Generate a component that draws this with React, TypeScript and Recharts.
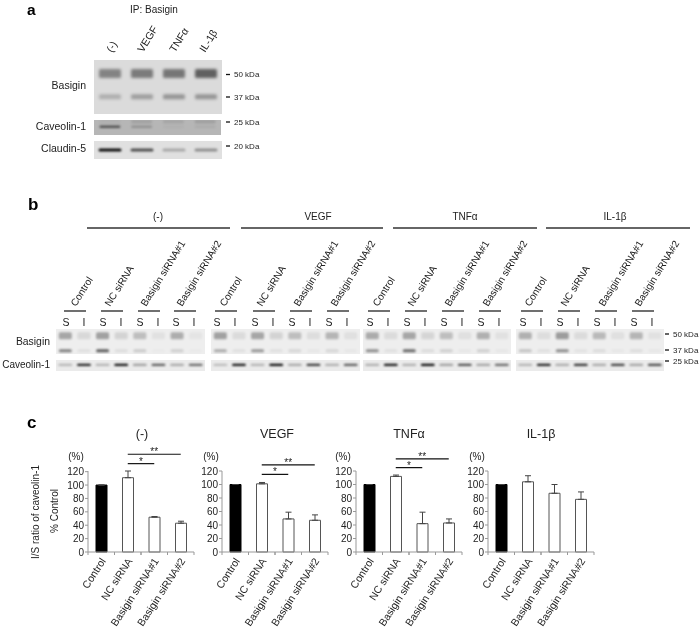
import React from 'react';
import { BarChart, Bar, Cell, XAxis, YAxis, ErrorBar, ReferenceLine, ScatterChart, Scatter } from 'recharts';

const FONT = '"Liberation Sans", Arial, sans-serif';

// panel c values
const categories = ['Control', 'NC siRNA', 'Basigin siRNA#1', 'Basigin siRNA#2'];
const yTicks = [0, 20, 40, 60, 80, 100, 120];
const noneValues = [100, 111, 52, 43];
const noneErrors = [0, 10, 1, 3];
const vegfValues = [100, 101, 49, 47];
const vegfErrors = [0, 2, 10, 8];
const tnfValues = [100, 112, 42, 43];
const tnfErrors = [0, 2, 17, 6];
const il1Values = [100, 104, 87, 78];
const il1Errors = [0, 9, 13, 11];
const noneSig = [132, 146];
const vegfSig = [115, 129];
const tnfSig = [125, 138];

// blot band strengths, panel a
const aBasigin50 = [0.4, 0.44, 0.46, 0.56];
const aBasigin37 = [0.2, 0.28, 0.32, 0.32];
const aCaveolin = [0.55, 0.2, 0.03, 0.06];
const aCaveolinTop = [0.04, 0.12, 0.1, 0.14];
const aClaudin = [0.95, 0.65, 0.25, 0.36];

// blot band strengths, panel b (S, I per condition)
const bBasigin50 = [
  [0.3, 0.09, 0.32, 0.11, 0.2, 0.05, 0.27, 0.04],
  [0.32, 0.08, 0.3, 0.11, 0.2, 0.07, 0.24, 0.06],
  [0.28, 0.08, 0.3, 0.1, 0.2, 0.06, 0.26, 0.05],
  [0.26, 0.07, 0.34, 0.08, 0.22, 0.06, 0.24, 0.05],
];
const bBasigin37 = [
  [0.45, 0.06, 0.6, 0.07, 0.15, 0.02, 0.13, 0.02],
  [0.28, 0.06, 0.36, 0.06, 0.1, 0.03, 0.1, 0.03],
  [0.4, 0.06, 0.55, 0.08, 0.13, 0.03, 0.13, 0.03],
  [0.18, 0.06, 0.4, 0.05, 0.08, 0.03, 0.07, 0.03],
];
const bCaveolin = [
  [0.22, 0.85, 0.24, 0.92, 0.32, 0.6, 0.28, 0.55],
  [0.2, 0.9, 0.24, 0.95, 0.28, 0.75, 0.26, 0.6],
  [0.26, 0.9, 0.26, 0.95, 0.32, 0.65, 0.3, 0.55],
  [0.24, 0.85, 0.27, 0.78, 0.28, 0.72, 0.3, 0.68],
];

// text
const conditions = ['(-)', 'VEGF', 'TNFα', 'IL-1β'];
const aLanes = ['(-)', 'VEGF', 'TNFα', 'IL-1β'];
const kdaA = ['50 kDa', '37 kDa', '25 kDa', '20 kDa'];
const kdaB = ['50 kDa', '37 kDa', '25 kDa'];

// layout
const C_AXIS_LEFT = [88, 222, 356, 488];
const C_TITLE_X = [142, 277, 409, 541];
const C_PCT_X = [76, 211, 343, 477];
const A_LANE_LABEL = [[112, 53], [143, 53], [175, 53], [205, 53]];
const A_KDA_Y = [74.5, 97, 122, 146];
const B_COND_X = [158, 318, 465, 615];
const B_COND_LINE = [[87, 230], [241, 383], [393, 537], [546, 690]];
const B_STRIP_X = [[56, 205], [211, 360], [363, 511], [516, 664]];
const B_SUB_LINE = [64, 101, 138, 174, 215, 253, 290, 327, 368, 405, 442, 479, 521, 558, 595, 632];
const B_LABEL_X = [76, 110, 146, 182, 225, 262, 299, 336, 378, 413, 450, 488, 530, 566, 604, 640];
const B_KDA_Y = [334, 350, 361];

const ink = '#222';

type Row = { y: number; values: number[]; height: number };

const toBands = (rows: Row[]) =>
  rows.flatMap(r => r.values.map((v, i) => ({ lane: i + 0.5, pos: r.y, strength: v, h: r.height })));

// one blot strip, bands placed by hidden lane/position axes
const Blot = ({ left, top, width, height, bg, rows, bandW, blur = 1 }: {
  left: number; top: number; width: number; height: number; bg: string; rows: Row[]; bandW: number; blur?: number;
}) => {
  const lanes = rows[0].values.length;
  const band = (p: any) => (
    <rect
      x={p.cx - bandW / 2}
      y={p.cy - p.payload.h / 2}
      width={bandW}
      height={p.payload.h}
      rx={1.5}
      fill="#000"
      fillOpacity={p.payload.strength}
      style={{ filter: `blur(${blur}px)` }}
    />
  );
  return (
    <div style={{ position: 'absolute', left, top, width, height, background: bg, filter: 'blur(0.4px)' }}>
      <ScatterChart width={width} height={height} margin={{ top: 0, right: 0, bottom: 0, left: 0 }}>
        <XAxis type="number" dataKey="lane" domain={[0, lanes]} hide />
        <YAxis type="number" dataKey="pos" domain={[0, 1]} reversed hide />
        <Scatter data={toBands(rows)} shape={band} isAnimationActive={false} />
      </ScatterChart>
    </div>
  );
};

const XTick = ({ x, y, payload }: any) => {
  const half = 13.25;
  return (
    <g>
      <line x1={x - half} x2={x - half} y1={y} y2={y + 3} stroke="#999" />
      <line x1={x + half} x2={x + half} y1={y} y2={y + 3} stroke="#999" />
      <text
        x={x + 5}
        y={y + 9}
        transform={`rotate(-57 ${x + 5} ${y + 9})`}
        textAnchor="end"
        fontSize={10.5}
        fill={ink}
        fontFamily={FONT}
      >
        {payload.value}
      </text>
    </g>
  );
};

const Stars = ({ viewBox, value }: any) => (
  <text
    x={viewBox.x + viewBox.width / 2}
    y={viewBox.y + 1}
    textAnchor="middle"
    fontSize={10}
    fill={ink}
    fontFamily={FONT}
  >
    {value}
  </text>
);

const BarPanel = ({ left, values, errors, sig }: { left: number; values: number[]; errors: number[]; sig?: number[] }) => {
  const data = categories.map((name, i) => ({ name, value: values[i], err: [0, errors[i]] }));
  return (
    <div style={{ position: 'absolute', left: left - 30, top: 441, willChange: 'transform' }}>
      <BarChart width={140} height={187} data={data} margin={{ top: 30, right: 4, bottom: 6, left: 0 }}>
        <XAxis dataKey="name" interval={0} height={70} tickLine={false} tickSize={0} tickMargin={0} stroke="#999" tick={<XTick />} />
        <YAxis
          width={30}
          domain={[0, 120]}
          ticks={yTicks}
          interval={0}
          tickSize={3}
          tickMargin={1}
          stroke="#999"
          tick={{ fontSize: 10, fill: ink, fontFamily: FONT }}
        />
        <Bar dataKey="value" barSize={11} fill="#fff" stroke="#555" strokeWidth={1} isAnimationActive={false}>
          {data.map((d, i) => (
            <Cell key={d.name} fill={i === 0 ? '#000' : '#fff'} stroke={i === 0 ? '#000' : '#555'} />
          ))}
          <ErrorBar dataKey="err" direction="y" width={3} stroke="#444" strokeWidth={1} isAnimationActive={false} />
        </Bar>
        {sig && (
          <ReferenceLine
            segment={[{ x: categories[1], y: sig[0] }, { x: categories[2], y: sig[0] }]}
            ifOverflow="visible"
            stroke="#111"
            strokeWidth={1.2}
            label={<Stars value="*" />}
          />
        )}
        {sig && (
          <ReferenceLine
            segment={[{ x: categories[1], y: sig[1] }, { x: categories[3], y: sig[1] }]}
            ifOverflow="visible"
            stroke="#111"
            strokeWidth={1.2}
            label={<Stars value="**" />}
          />
        )}
      </BarChart>
    </div>
  );
};

const Annotations = () => (
  <svg width={700} height={628} style={{ position: 'absolute', left: 0, top: 0, willChange: 'transform' }} fontFamily={FONT} fill={ink}>
    {/* panel letters */}
    <text x={27} y={14.5} fontSize={15.5} fontWeight="bold" fill="#000">a</text>
    <text x={28} y={210} fontSize={17} fontWeight="bold" fill="#000">b</text>
    <text x={27} y={428} fontSize={17} fontWeight="bold" fill="#000">c</text>

    {/* panel a */}
    <text x={154} y={13} fontSize={10} textAnchor="middle">IP: Basigin</text>
    {aLanes.map((t, i) => (
      <text key={t} x={A_LANE_LABEL[i][0]} y={A_LANE_LABEL[i][1]} fontSize={10.5}
        transform={`rotate(-58 ${A_LANE_LABEL[i][0]} ${A_LANE_LABEL[i][1]})`}>{t}</text>
    ))}
    <text x={86} y={89} fontSize={10.5} textAnchor="end">Basigin</text>
    <text x={86} y={130} fontSize={10.5} textAnchor="end">Caveolin-1</text>
    <text x={86} y={152} fontSize={10.5} textAnchor="end">Claudin-5</text>
    {kdaA.map((t, i) => (
      <g key={t}>
        <line x1={226} x2={230} y1={A_KDA_Y[i]} y2={A_KDA_Y[i]} stroke="#111" strokeWidth={1.3} />
        <text x={234} y={A_KDA_Y[i] + 2.5} fontSize={8}>{t}</text>
      </g>
    ))}

    {/* panel b */}
    {conditions.map((t, i) => (
      <g key={t}>
        <text x={B_COND_X[i]} y={220} fontSize={10} textAnchor="middle">{t}</text>
        <line x1={B_COND_LINE[i][0]} x2={B_COND_LINE[i][1]} y1={228} y2={228} stroke="#333" strokeWidth={1.3} />
      </g>
    ))}
    {B_LABEL_X.map((x, i) => (
      <text key={i} x={x} y={307} fontSize={10} transform={`rotate(-58 ${x} 307)`}>{categories[i % 4]}</text>
    ))}
    {B_SUB_LINE.map((x, i) => (
      <g key={i}>
        <line x1={x} x2={x + 22} y1={311} y2={311} stroke="#111" strokeWidth={1.2} />
        <text x={x + 2} y={326} fontSize={10.5} textAnchor="middle">S</text>
        <text x={x + 20} y={326} fontSize={10.5} textAnchor="middle">I</text>
      </g>
    ))}
    <text x={50} y={344.5} fontSize={10.4} textAnchor="end">Basigin</text>
    <text x={50} y={368} fontSize={10} textAnchor="end">Caveolin-1</text>
    {kdaB.map((t, i) => (
      <g key={t}>
        <line x1={665} x2={669} y1={B_KDA_Y[i]} y2={B_KDA_Y[i]} stroke="#111" strokeWidth={1.3} />
        <text x={673} y={B_KDA_Y[i] + 2.5} fontSize={8}>{t}</text>
      </g>
    ))}

    {/* panel c */}
    {conditions.map((t, i) => (
      <g key={t}>
        <text x={C_TITLE_X[i]} y={438} fontSize={12.5} textAnchor="middle">{t}</text>
        <text x={C_PCT_X[i]} y={460} fontSize={10} textAnchor="middle">(%)</text>
      </g>
    ))}
    <text x={0} y={0} fontSize={10} textAnchor="middle" transform="translate(39 512) rotate(-90)">I/S ratio of caveolin-1</text>
    <text x={0} y={0} fontSize={10} textAnchor="middle" transform="translate(58 511) rotate(-90)">% Control</text>
  </svg>
);

export default function App() {
  return (
    <div style={{ position: 'absolute', left: 0, top: 0, width: 700, height: 628, background: '#fff', overflow: 'hidden', fontFamily: FONT }}>
      <Annotations />

      <Blot left={94} top={60} width={128} height={54} bg="#dbdbdb" bandW={22} blur={1.5} rows={[
        { y: 0.25, values: aBasigin50, height: 9 },
        { y: 0.68, values: aBasigin37, height: 5 },
      ]} />
      <Blot left={94} top={120} width={127} height={15} bg="#b6b6b6" bandW={21} blur={1} rows={[
        { y: 0.45, values: aCaveolin, height: 2.5 },
        { y: 0.12, values: aCaveolinTop, height: 3 },
      ]} />
      <Blot left={94} top={141} width={128} height={18} bg="#e0e0e0" bandW={23} blur={0.9} rows={[
        { y: 0.5, values: aClaudin, height: 3 },
      ]} />

      {B_STRIP_X.map(([x0, x1], i) => (
        <React.Fragment key={i}>
          <Blot left={x0} top={329} width={x1 - x0} height={25} bg="#eeeeee" bandW={13} blur={1.1} rows={[
            { y: 0.27, values: bBasigin50[i], height: 7 },
            { y: 0.87, values: bBasigin37[i], height: 3 },
          ]} />
          <Blot left={x0} top={360} width={x1 - x0} height={11} bg="#ebebeb" bandW={14} blur={0.8} rows={[
            { y: 0.45, values: bCaveolin[i], height: 2.2 },
          ]} />
        </React.Fragment>
      ))}

      <BarPanel left={C_AXIS_LEFT[0]} values={noneValues} errors={noneErrors} sig={noneSig} />
      <BarPanel left={C_AXIS_LEFT[1]} values={vegfValues} errors={vegfErrors} sig={vegfSig} />
      <BarPanel left={C_AXIS_LEFT[2]} values={tnfValues} errors={tnfErrors} sig={tnfSig} />
      <BarPanel left={C_AXIS_LEFT[3]} values={il1Values} errors={il1Errors} />
    </div>
  );
}
